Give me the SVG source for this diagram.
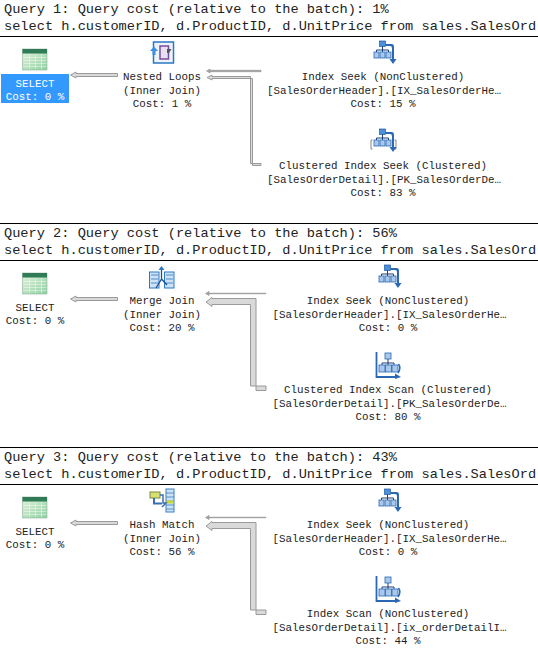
<svg xmlns="http://www.w3.org/2000/svg" width="538" height="665" viewBox="0 0 538 665">
<style>
text{font-family:"Liberation Mono","Courier New",monospace;fill:#222}
.h{font-size:13.65px}
.n{font-size:10.83px;text-anchor:middle}
text.w{fill:#fff}
.rule{fill:#000}
.a{fill:#d9d9d9;stroke:#9a9a9a;stroke-width:1}
.t{fill:#a8a8a8;stroke:#8c8c8c;stroke-width:.6}
.b1{fill:#4f8fd4;stroke:#1f5aa6;stroke-width:.7}
.b2{fill:#a9c8ea;stroke:#2a68b4;stroke-width:.8}
.l{fill:none;stroke:#173f78;stroke-width:1}
</style>
<defs>
<linearGradient id="sg" x1="0" y1="0" x2="1" y2="1"><stop offset="0" stop-color="#e4f1dc"/><stop offset="1" stop-color="#8fd2a4"/></linearGradient>
<g id="iSelect">
<rect x="0" y="0" width="24.500" height="21" fill="url(#sg)" stroke="#8fb09a" stroke-width=".6"/>
<rect x="0" y="0" width="24.500" height="4.500" fill="#2f7b58"/>
<path d="M1 8.500H24M1 11.500H24M1 14.500H24M1 17.500H24M7 5V20M13 5V20M19 5V20" stroke="#fff" stroke-width=".6" opacity=".7" fill="none"/>
</g>
<g id="iSeek">
<path class="l" d="M9 5V9M3 11V9H15V11M9 9V11"/>
<rect class="b1" x="6" y="0" width="6" height="5.500"/>
<rect class="b2" x="0.500" y="11" width="5" height="6"/>
<rect class="b2" x="6.500" y="11" width="5" height="6"/>
<rect class="b2" x="12.500" y="11" width="5" height="6"/>
<path d="M12 3H18Q20.500 3 20.500 6V18H23L19.500 23L16 18H18.500V7Q18.500 5 16.500 5H12Z" fill="#2a68b4"/>
</g>
<g id="iClSeek">
<path d="M2 11H0.500V20H2M24 11H25.500V20H24" fill="none" stroke="#555" stroke-width=".7"/>
<use href="#iSeek" x="3" y="0"/>
</g>
<g id="iScan">
<path d="M0.500 0V25H20" fill="none" stroke="#2a68b4" stroke-width="1.800"/>
<path d="M19 21.500L25 25L19 27Z" fill="#2a68b4"/>
<path d="M22.500 12Q25.500 16 22 21" fill="none" stroke="#2a68b4" stroke-width="1.500"/>
<path class="l" d="M12 7V11M6 13V11H18V13M12 11V13"/>
<rect class="b2" x="9" y="1" width="6" height="6"/>
<rect class="b2" x="3" y="13" width="6" height="7"/>
<rect class="b2" x="9.500" y="13" width="6" height="7"/>
<rect class="b2" x="16" y="13" width="6" height="7"/>
</g>
</defs>

<g id="query-headers">
<text class="h" x="4" y="13">Query 1: Query cost (relative to the batch): 1%</text>
<text class="h" x="4" y="30">select h.customerID, d.ProductID, d.UnitPrice from sales.SalesOrd</text>
<rect class="rule" x="0" y="36" width="538" height="1"/>
<rect class="rule" x="0" y="223" width="538" height="1"/>
<text class="h" x="4" y="237">Query 2: Query cost (relative to the batch): 56%</text>
<text class="h" x="4" y="254">select h.customerID, d.ProductID, d.UnitPrice from sales.SalesOrd</text>
<rect class="rule" x="0" y="260" width="538" height="1"/>
<rect class="rule" x="0" y="447" width="538" height="1"/>
<text class="h" x="4" y="461">Query 3: Query cost (relative to the batch): 43%</text>
<text class="h" x="4" y="478">select h.customerID, d.ProductID, d.UnitPrice from sales.SalesOrd</text>
<rect class="rule" x="0" y="484" width="538" height="1"/>
</g>

<g id="connectors">
<path class="a" d="M117.500 73.500H76V72L70.500 75L76 78V76.500H117.500Z"/>
<path class="t" d="M261 70.300H210V69L206.500 71L210 73V71.700H261Z"/>
<path class="a" d="M261 163.500H250.500V76.500H212V75L207 77.500L212 80V78.500H252.500V165.500H261Z"/>
<path class="a" d="M117.500 297.500H76V296L70.500 299L76 302V300.500H117.500Z"/>
<path class="t" d="M266 293.200H209V291.500L205.500 293.500L209 295.500V293.800H266Z"/>
<path class="a" d="M266 386H250.500V304.500H212V306.500L206 302L212 297.500V298.500H256V390.500H266Z"/>
<path class="a" d="M117.500 521.500H76V520L70.500 523L76 526V524.500H117.500Z"/>
<path class="t" d="M266 517.200H209V515.500L205.500 517.500L209 519.500V517.800H266Z"/>
<path class="a" d="M266 610H250.500V528.500H212V530.500L206 526L212 521.500V522.500H256V614.500H266Z"/>
</g>

<g id="q1-select">
<rect x="1" y="74" width="68" height="29" fill="#3399ff"/>
<use href="#iSelect" x="22.500" y="49"/>
<text class="n w" x="35" y="87">SELECT</text>
<text class="n w" x="35" y="100">Cost: 0 %</text>
</g>
<g id="q1-nested-loops">
<rect x="153.500" y="42" width="20" height="21" fill="#eef3fb" stroke="#2a78c4" stroke-width="1.500"/>
<rect x="160" y="46" width="8.500" height="13" fill="#e8e0f0" stroke="#7a4d9a" stroke-width="1.500"/>
<path d="M152.500 55V51H150L154 46.500L158 51H155.500V55Z" fill="#3f8fe0"/>
<path d="M167 49H171.500L169 53H167Z" fill="#555"/>
<text class="n" x="162" y="80">Nested Loops</text>
<text class="n" x="162" y="94">(Inner Join)</text>
<text class="n" x="162" y="107">Cost: 1 %</text>
</g>
<g id="q1-index-seek">
<use href="#iSeek" x="373.500" y="41"/>
<text class="n" x="383" y="80">Index Seek (NonClustered)</text>
<text class="n" x="384" y="94">[SalesOrderHeader].[IX_SalesOrderHe…</text>
<text class="n" x="383" y="107">Cost: 15 %</text>
</g>
<g id="q1-clustered-seek">
<use href="#iClSeek" x="370.500" y="129"/>
<text class="n" x="383" y="169">Clustered Index Seek (Clustered)</text>
<text class="n" x="384" y="183">[SalesOrderDetail].[PK_SalesOrderDe…</text>
<text class="n" x="383" y="196">Cost: 83 %</text>
</g>

<g id="q2-select">
<use href="#iSelect" x="22.500" y="273"/>
<text class="n" x="35" y="311">SELECT</text>
<text class="n" x="35" y="324">Cost: 0 %</text>
</g>
<g id="q2-merge-join">
<rect x="149.500" y="272" width="9.500" height="16" fill="#cfe2f5" stroke="#2a78c4"/>
<rect x="164.500" y="272" width="9.500" height="16" fill="#cfe2f5" stroke="#2a78c4"/>
<path d="M151 275H158M151 279H158M151 283H158M166 275H173M166 279H173M166 283H173" stroke="#2a78c4" stroke-width=".8"/>
<path d="M161.500 267V279L156 288M161.500 279L167 285" fill="none" stroke="#1a4f96" stroke-width="1.300"/>
<path d="M158.500 270L161.500 266L164.500 270Z" fill="#2a78c4"/>
<text class="n" x="162" y="304">Merge Join</text>
<text class="n" x="162" y="318">(Inner Join)</text>
<text class="n" x="162" y="331">Cost: 20 %</text>
</g>
<g id="q2-index-seek">
<use href="#iSeek" x="378.500" y="265"/>
<text class="n" x="388" y="304">Index Seek (NonClustered)</text>
<text class="n" x="389.500" y="318">[SalesOrderHeader].[IX_SalesOrderHe…</text>
<text class="n" x="388" y="331">Cost: 0 %</text>
</g>
<g id="q2-clustered-scan">
<use href="#iScan" x="376" y="352"/>
<text class="n" x="388" y="393">Clustered Index Scan (Clustered)</text>
<text class="n" x="389.500" y="407">[SalesOrderDetail].[PK_SalesOrderDe…</text>
<text class="n" x="388" y="420">Cost: 80 %</text>
</g>

<g id="q3-select">
<use href="#iSelect" x="22.500" y="497"/>
<text class="n" x="35" y="535">SELECT</text>
<text class="n" x="35" y="548">Cost: 0 %</text>
</g>
<g id="q3-hash-match">
<rect x="166" y="489" width="8" height="23" fill="#cfe2f5" stroke="#3a7fc4"/>
<path d="M166 493H174M166 497H174M166 501H174M166 505H174M166 509H174" stroke="#3a7fc4" stroke-width=".8"/>
<rect x="166.500" y="500.500" width="7" height="3" fill="#c8d83a"/>
<rect x="150" y="492" width="10" height="6" fill="#d8e070" stroke="#7a8a3a"/>
<path d="M160 495H163V503H166L162 507" fill="none" stroke="#3a6fb4" stroke-width="1.500"/>
<path d="M154 498V503.500H162" fill="none" stroke="#3a6fb4" stroke-width="2"/>
<text class="n" x="162" y="528">Hash Match</text>
<text class="n" x="162" y="542">(Inner Join)</text>
<text class="n" x="162" y="555">Cost: 56 %</text>
</g>
<g id="q3-index-seek">
<use href="#iSeek" x="378.500" y="489"/>
<text class="n" x="388" y="528">Index Seek (NonClustered)</text>
<text class="n" x="389.500" y="542">[SalesOrderHeader].[IX_SalesOrderHe…</text>
<text class="n" x="388" y="555">Cost: 0 %</text>
</g>
<g id="q3-index-scan">
<use href="#iScan" x="376" y="576"/>
<text class="n" x="388" y="617">Index Scan (NonClustered)</text>
<text class="n" x="389.500" y="631">[SalesOrderDetail].[ix_orderDetailI…</text>
<text class="n" x="388" y="644">Cost: 44 %</text>
</g>
</svg>
